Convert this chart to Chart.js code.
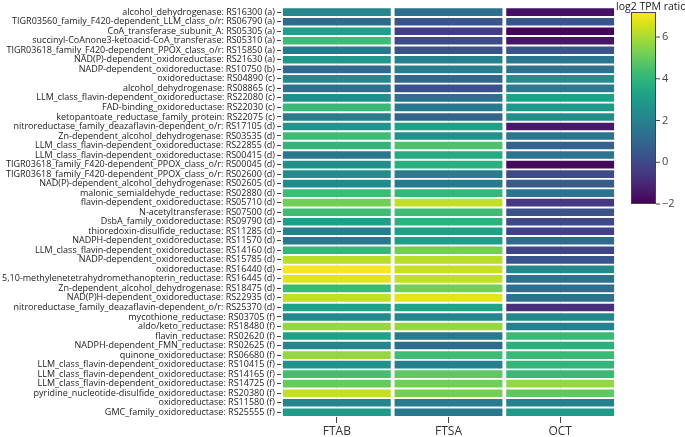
<!DOCTYPE html>
<html>
<head>
<meta charset="utf-8">
<script src="https://cdn.jsdelivr.net/npm/chart.js@4"></script>
<style>
  body { margin: 0; background: #fff; }
  #contenedor { width: 685px; height: 437px; }
</style>
</head>
<body>
<div id="contenedor"><canvas id="mapaCalor"></canvas></div>
<script>
// Etiquetas de las filas (genes), de arriba hacia abajo
const genes = [
    'alcohol_dehydrogenase: RS16300 (a)',
    'TIGR03560_family_F420-dependent_LLM_class_o/r: RS06790 (a)',
    'CoA_transferase_subunit_A: RS05305 (a)',
    'succinyl-CoAnone3-ketoacid-CoA_transferase: RS05310 (a)',
    'TIGR03618_family_F420-dependent_PPOX_class_o/r: RS15850 (a)',
    'NAD(P)-dependent_oxidoreductase: RS21630 (a)',
    'NADP-dependent_oxidoreductase: RS10750 (b)',
    'oxidoreductase: RS04890 (c)',
    'alcohol_dehydrogenase: RS08865 (c)',
    'LLM_class_flavin-dependent_oxidoreductase: RS22080 (c)',
    'FAD-binding_oxidoreductase: RS22030 (c)',
    'ketopantoate_reductase_family_protein: RS22075 (c)',
    'nitroreductase_family_deazaflavin-dependent_o/r: RS17105 (d)',
    'Zn-dependent_alcohol_dehydrogenase: RS03535 (d)',
    'LLM_class_flavin-dependent_oxidoreductase: RS22855 (d)',
    'LLM_class_flavin-dependent_oxidoreductase: RS00415 (d)',
    'TIGR03618_family_F420-dependent_PPOX_class_o/r: RS00045 (d)',
    'TIGR03618_family_F420-dependent_PPOX_class_o/r: RS02600 (d)',
    'NAD(P)-dependent_alcohol_dehydrogenase: RS02605 (d)',
    'malonic_semialdehyde_reductase: RS02880 (d)',
    'flavin-dependent_oxidoreductase: RS05710 (d)',
    'N-acetyltransferase: RS07500 (d)',
    'DsbA_family_oxidoreductase: RS09790 (d)',
    'thioredoxin-disulfide_reductase: RS11285 (d)',
    'NADPH-dependent_oxidoreductase: RS11570 (d)',
    'LLM_class_flavin-dependent_oxidoreductase: RS14160 (d)',
    'NADP-dependent_oxidoreductase: RS15785 (d)',
    'oxidoreductase: RS16440 (d)',
    '5,10-methylenetetrahydromethanopterin_reductase: RS16445 (d)',
    'Zn-dependent_alcohol_dehydrogenase: RS18475 (d)',
    'NAD(P)H-dependent_oxidoreductase: RS22935 (d)',
    'nitroreductase_family_deazaflavin-dependent_o/r: RS25370 (d)',
    'mycothione_reductase: RS03705 (f)',
    'aldo/keto_reductase: RS18480 (f)',
    'flavin_reductase: RS02620 (f)',
    'NADPH-dependent_FMN_reductase: RS02625 (f)',
    'quinone_oxidoreductase: RS06680 (f)',
    'LLM_class_flavin-dependent_oxidoreductase: RS10415 (f)',
    'LLM_class_flavin-dependent_oxidoreductase: RS14165 (f)',
    'LLM_class_flavin-dependent_oxidoreductase: RS14725 (f)',
    'pyridine_nucleotide-disulfide_oxidoreductase: RS20380 (f)',
    'oxidoreductase: RS11580 (f)',
    'GMC_family_oxidoreductase: RS25555 (f)'
];

// Columnas (muestras)
const muestras = ['FTAB', 'FTSA', 'OCT'];

// log2 TPM ratio por muestra (estimado de la figura)
const ftab = [2.2, 1.2, 3.1, 4.3, 1.7, 2.9, 1.2, 2.3, 1.4, 2.5, 4.2, 1.8,
              2.7, 4.3, 4.0, 1.6, 2.5, 2.5, 2.3, 4.3, 5.2, 4.3, 3.1, 1.9,
              1.7, 4.1, 6.2, 7.1, 6.8, 4.2, 6.3, 3.2, 2.3, 5.7, 3.2, 2.1,
              5.7, 2.6, 4.4, 5.0, 6.3, 2.1, 3.0];
const ftsa = [1.3, 0.4, -0.3, 0.1, 0.3, 2.0, 1.9, 1.0, 0.3, 1.4, 1.7, 0.9,
              3.2, 2.6, 4.6, 3.6, 3.8, 1.9, 1.7, 4.1, 6.3, 4.3, 3.9, 3.2,
              3.1, 5.2, 6.2, 6.4, 6.3, 5.2, 6.8, 3.3, 2.1, 5.7, 1.7, 1.2,
              4.3, 1.9, 4.9, 5.2, 5.2, 1.8, 1.7];
const oct  = [-1.6, 0.4, -1.9, -1.5, 0.4, 1.6, 1.4, 2.5, 1.8, 3.2, 2.9, 2.5,
              -1.4, 1.5, 0.8, 1.5, -1.8, 0.1, 0.6, 1.5, -0.5, 0.3, 0.0, -0.2,
              1.2, -0.1, 0.4, 2.3, 1.4, 1.3, 1.4, -0.8, 2.2, 2.0, 4.2, 3.8,
              4.2, 4.0, 4.2, 5.7, 4.9, 2.0, 3.0];

// Escala de color
const zMin = -2;
const zMax = 7.2;
const ticksBarra = [-2, 0, 2, 4, 6];
const viridis = ['#440154', '#48186a', '#472d7b', '#424086', '#3b528b', '#33638d',
                 '#2c728e', '#26828e', '#21918c', '#1fa088', '#28ae80', '#3fbc73',
                 '#5ec962', '#84d44b', '#addc30', '#d8e219', '#fde725'];

function hexARgb(hex) {
    return [1, 3, 5].map(i => parseInt(hex.substr(i, 2), 16));
}

function colorDeValor(v) {
    let t = (v - zMin) / (zMax - zMin);
    t = Math.min(1, Math.max(0, t));
    const pos = t * (viridis.length - 1);
    const i = Math.min(Math.floor(pos), viridis.length - 2);
    const f = pos - i;
    const a = hexARgb(viridis[i]);
    const b = hexARgb(viridis[i + 1]);
    const c = a.map((x, k) => Math.round(x + (b[k] - x) * f));
    return `rgb(${c[0]}, ${c[1]}, ${c[2]})`;
}

// Barra de color dibujada a la derecha del gráfico
const barraColor = {
    id: 'barraColor',
    afterDraw(chart) {
        const ctx = chart.ctx;
        const area = chart.chartArea;
        const x0 = area.right + 15;
        const ancho = 25;
        const arriba = 12;
        const abajo = 204;
        const grad = ctx.createLinearGradient(0, abajo, 0, arriba);
        viridis.forEach((c, i) => grad.addColorStop(i / (viridis.length - 1), c));
        ctx.save();
        ctx.fillStyle = grad;
        ctx.fillRect(x0, arriba, ancho, abajo - arriba);
        ctx.strokeStyle = '#444';
        ctx.lineWidth = 1;
        ctx.strokeRect(x0 + 0.5, arriba + 0.5, ancho - 1, abajo - arriba - 1);

        ctx.fillStyle = '#444';
        ctx.font = '11px "Open Sans"';
        ctx.textBaseline = 'middle';
        ctx.textAlign = 'left';
        ticksBarra.forEach(v => {
            const y = abajo - (v - zMin) / (zMax - zMin) * (abajo - arriba);
            ctx.beginPath();
            ctx.moveTo(x0 + ancho, y);
            ctx.lineTo(x0 + ancho + 4, y);
            ctx.stroke();
            ctx.fillText(v < 0 ? '\u2212' + Math.abs(v) : String(v), x0 + ancho + 6, y);
        });

        ctx.fillStyle = '#222';
        ctx.font = '10.5px "Open Sans"';
        ctx.textBaseline = 'alphabetic';
        ctx.fillText('log2 TPM ratio', area.right, 10);
        ctx.restore();
    }
};

function mostrarMapaCalor() {
    const series = [ftab, ftsa, oct];
    const datasets = series.map((valores, j) => ({
        label: muestras[j],
        data: valores.map(() => [j + 0.017, j + 0.983]),
        valores: valores,
        backgroundColor: valores.map(colorDeValor),
        borderWidth: 0,
        grouped: false,
        barPercentage: 1,
        categoryPercentage: 0.8
    }));

    const ctx = document.getElementById('mapaCalor').getContext('2d');
    new Chart(ctx, {
        type: 'bar',
        data: { labels: genes, datasets },
        options: {
            indexAxis: 'y',
            responsive: true,
            maintainAspectRatio: false,
            animation: false,
            layout: { padding: { top: 4, right: 69, bottom: 0, left: 0 } },
            plugins: {
                legend: { display: false },
                tooltip: {
                    callbacks: {
                        label: (item) => `${item.dataset.label}: ${item.dataset.valores[item.dataIndex].toFixed(2)}`
                    }
                }
            },
            scales: {
                x: {
                    type: 'linear',
                    min: 0,
                    max: 3,
                    afterBuildTicks: (escala) => {
                        escala.ticks = muestras.map((m, i) => ({ value: i + 0.5 }));
                    },
                    afterFit: (escala) => { escala.height = 20; },
                    ticks: {
                        autoSkip: false,
                        maxRotation: 0,
                        padding: 3,
                        color: '#333',
                        font: { family: 'Open Sans', size: 12, lineHeight: 1 },
                        callback: (valor) => muestras[Math.floor(valor)]
                    },
                    grid: { color: '#ebebeb', tickColor: '#444', tickLength: 6 },
                    border: { display: false }
                },
                y: {
                    afterFit: (escala) => { escala.width = 281; },
                    ticks: {
                        autoSkip: false,
                        padding: 2,
                        color: '#222',
                        font: { family: 'Open Sans', size: 9 }
                    },
                    grid: { offset: false, drawOnChartArea: false, tickColor: '#444', tickLength: 4 },
                    border: { display: false }
                }
            }
        },
        plugins: [barraColor]
    });
}

document.addEventListener('DOMContentLoaded', mostrarMapaCalor);
</script>
</body>
</html>
